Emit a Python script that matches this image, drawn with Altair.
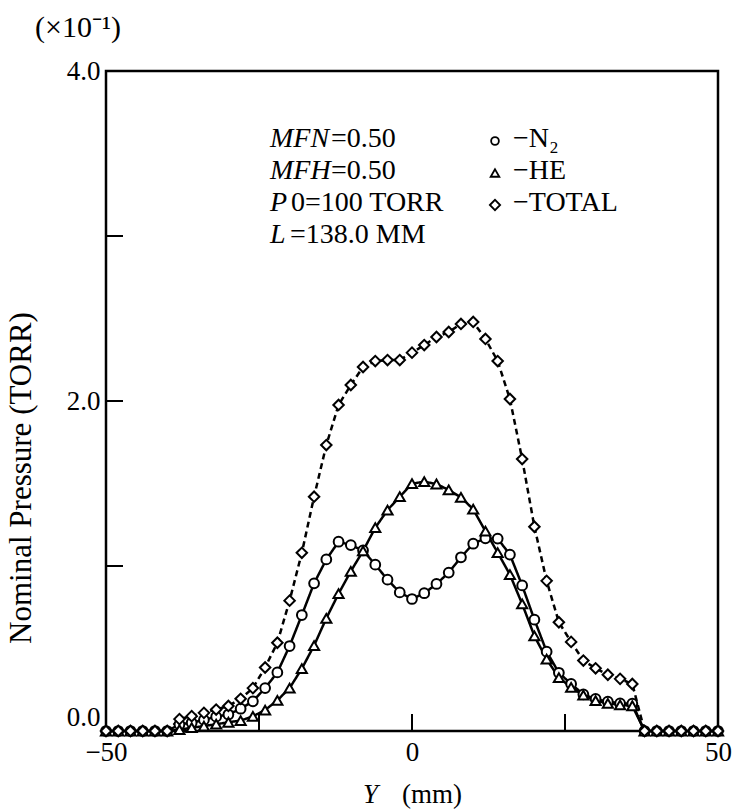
import altair as alt
import pandas as pd

# ---------------- data ----------------
Y_MM = list(range(-50, 52, 2))
SERIES = ["N2", "HE", "TOTAL"]

N2 = [0, 0, 0, 0, 0, 0,
      0.04, 0.05, 0.067, 0.087, 0.10, 0.135, 0.18, 0.26, 0.355, 0.515,
      0.703, 0.895, 1.04, 1.147, 1.127, 1.094, 1.008, 0.917, 0.84, 0.80,
      0.835, 0.891, 0.96, 1.053, 1.135, 1.168, 1.166, 1.069, 0.882, 0.675,
      0.481, 0.353, 0.285, 0.222, 0.194, 0.178, 0.168, 0.166,
      0, 0, 0, 0, 0, 0, 0]

HE = [0, 0, 0, 0, 0, 0,
      0.008, 0.02, 0.03, 0.041, 0.053, 0.063, 0.089, 0.127, 0.186, 0.26,
      0.378, 0.518, 0.683, 0.832, 0.968, 1.091, 1.232, 1.339, 1.42, 1.499,
      1.511, 1.497, 1.461, 1.416, 1.344, 1.211, 1.081, 0.948, 0.77, 0.576,
      0.435, 0.323, 0.265, 0.218, 0.184, 0.168, 0.158, 0.153,
      0, 0, 0, 0, 0, 0, 0]

TOTAL = [0, 0, 0, 0, 0, 0,
         0.072, 0.09, 0.11, 0.13, 0.152, 0.195, 0.26, 0.385, 0.535, 0.79,
         1.08, 1.42, 1.733, 1.976, 2.097, 2.206, 2.242, 2.248, 2.248, 2.293,
         2.339, 2.388, 2.418, 2.467, 2.479, 2.376, 2.242, 2.012, 1.648, 1.238,
         0.91, 0.659, 0.54, 0.427, 0.38, 0.341, 0.316, 0.285,
         0, 0, 0, 0, 0, 0, 0]

X_TICKS = [-25, 0, 25]
Y_TICKS = [1, 2, 3]

rows = []
for name, vals in zip(SERIES, [N2, HE, TOTAL]):
    for xv, pv in zip(Y_MM, vals):
        rows.append({"y_mm": xv, "p": pv, "series": name})
df = pd.DataFrame(rows)

# ---------------- styling ----------------
SERIF = "Liberation Serif"
W, H = 612, 660

x_axis = alt.Axis(values=[-50, -25, 0, 25, 50],
                  labelExpr="abs(datum.value) == 25 ? '' : format(datum.value, 'd')",
                  labelFont=SERIF, labelFontSize=27, labelColor="black",
                  labelPadding=8, labelFlush=False, labelOverlap=False,
                  ticks=False, domain=False, grid=False, title=None)
y_axis = alt.Axis(values=[0, 1, 2, 3, 4],
                  labelExpr="datum.value % 2 == 0 ? format(datum.value, '.1f') : ''",
                  labelFont=SERIF, labelFontSize=27, labelColor="black",
                  labelPadding=6, labelOverlap=False,
                  labelBaseline={"condition": {"test": "datum.value == 0", "value": "bottom"},
                                 "value": "middle"},
                  ticks=False, domain=False, grid=False, title=None)

x_scale = alt.Scale(domain=[-50, 50], nice=False, zero=False)
y_scale = alt.Scale(domain=[0, 4], nice=False)

ser_dom = SERIES

lines = alt.Chart(df).mark_line(color="black").encode(
    x=alt.X("y_mm:Q", scale=x_scale, axis=x_axis),
    y=alt.Y("p:Q", scale=y_scale, axis=y_axis),
    detail="series:N",
    strokeDash=alt.StrokeDash("series:N", scale=alt.Scale(domain=ser_dom, range=[[1, 0], [1, 0], [6, 4]]), legend=None),
    strokeWidth=alt.StrokeWidth("series:N", scale=alt.Scale(domain=ser_dom, range=[2.5, 2.5, 1.7]), legend=None),
)

points = alt.Chart(df).mark_point(filled=True, fill="white", stroke="black",
                                   strokeWidth=2, opacity=1).encode(
    x=alt.X("y_mm:Q", scale=x_scale, axis=x_axis),
    y=alt.Y("p:Q", scale=y_scale, axis=y_axis),
    shape=alt.Shape("series:N", scale=alt.Scale(domain=ser_dom, range=["circle", "triangle-up", "diamond"]), legend=None),
    size=alt.Size("series:N", scale=alt.Scale(domain=ser_dom, range=[95, 110, 165]), legend=None),
)

xt = alt.Chart(pd.DataFrame({"v": X_TICKS})).mark_rule(color="black", strokeWidth=2).encode(
    x=alt.X("v:Q", scale=x_scale, axis=x_axis),
    y=alt.value(H), y2=alt.value(H - 17))
yt = alt.Chart(pd.DataFrame({"v": Y_TICKS})).mark_rule(color="black", strokeWidth=2).encode(
    y=alt.Y("v:Q", scale=y_scale, axis=y_axis),
    x=alt.value(0), x2=alt.value(17))

one = pd.DataFrame({"k": [0]})


def txt(s, x, y, size=28, style="normal", align="left", baseline="alphabetic", angle=0):
    return alt.Chart(one).mark_text(text=s, font=SERIF, fontSize=size, fontStyle=style,
                                    align=align, baseline=baseline, angle=angle,
                                    color="black").encode(x=alt.value(x), y=alt.value(y))


def sym(shape, x, y, size):
    return alt.Chart(one).mark_point(shape=shape, filled=True, fill="white", stroke="black",
                                     strokeWidth=1.8, size=size, opacity=1).encode(
        x=alt.value(x), y=alt.value(y))


annots = [
    txt("(×10⁻¹)", -71, -34, size=30),
    txt("MFN", 164, 76, style="italic"), txt("=0.50", 225, 76),
    txt("MFH", 164, 108, style="italic"), txt("=0.50", 225, 108),
    txt("P", 164, 140, style="italic"), txt("0=100 TORR", 185, 140),
    txt("L", 164, 172, style="italic"), txt("=138.0 MM", 184, 172),
    sym("circle", 389, 70, 60), txt("−N₂", 407, 76),
    sym("triangle-up", 389, 102, 75), txt("−HE", 407, 108),
    sym("diamond", 389, 134, 105), txt("−TOTAL", 407, 140),
    txt("Nominal Pressure (TORR)", -84, 407, size=31, align="center", baseline="middle", angle=270),
    txt("Y", 257, 732, size=27, style="italic"),
    txt("(mm)", 296, 732, size=27),
]

chart = alt.layer(lines, points, xt, yt, *annots).properties(
    width=W, height=H,
    autosize=alt.AutoSizeParams(type="none"),
    padding={"left": 106, "top": 71, "right": 15, "bottom": 79},
    background="white",
).configure_view(stroke="black", strokeWidth=2.5)

chart.save("out.html", embed_options={"renderer": "svg", "actions": False})
